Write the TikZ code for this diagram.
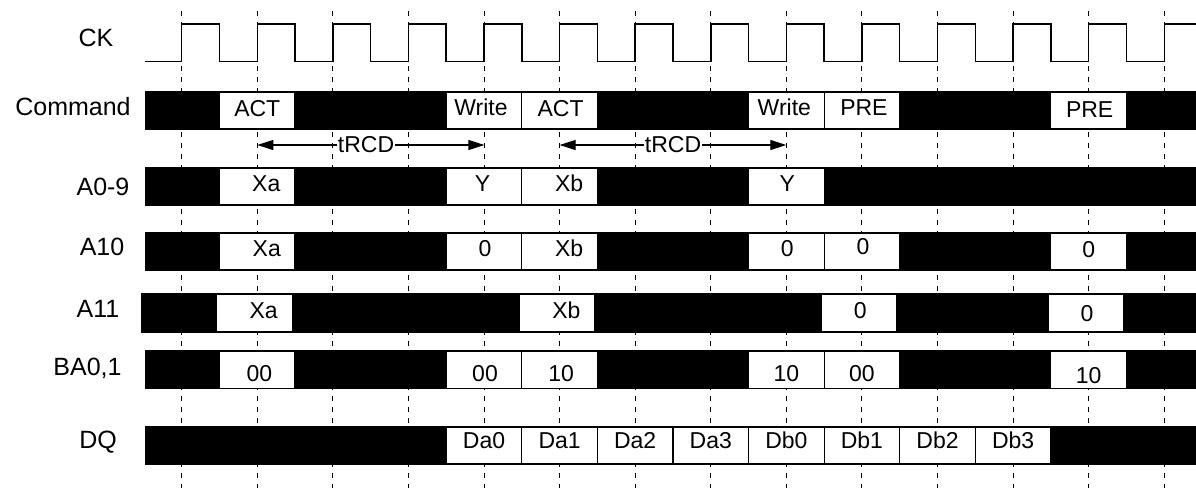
\documentclass[tikz,border=0pt]{standalone}
\usepackage{fontspec}
\setmainfont{Liberation Sans}
\usetikzlibrary{arrows.meta}
\newcommand\sigcell[7][]{%
  \node[sigbox,#1] (#2) at ({257.29+75.58*#3},#4) {};
  \node[boxtext] (#2t) at ([shift={(#6,#7)}]#2.center) {#5};
}
\begin{document}
\begin{tikzpicture}[x=1pt,y=-1pt,
  sigbox/.style={draw=black, fill=white, line width=1.2pt, minimum width=75.58pt, minimum height=37pt, inner sep=0pt, outer sep=0pt},
  boxtext/.style={font=\fontsize{23}{23}\selectfont, inner sep=0pt, text height=16.5pt, text depth=0pt},
  rowlabel/.style={font=\fontsize{25}{25}\selectfont, inner sep=0pt, text height=18pt, text depth=0pt},
  bus/.style={fill=black},
  gridline/.style={dash pattern=on 5pt off 6pt, line width=1pt, black},
  clk/.style={line width=1.5pt, line join=miter},
  timing/.style={{Triangle[length=16pt,width=10pt]}-{Triangle[length=16pt,width=10pt]}, line width=1.2pt},
  tlabel/.style={boxtext, fill=white, inner xsep=1pt}
]
\useasboundingbox (0,0) rectangle (1196,488);
% grid
\foreach \k in {0,...,13}
  \draw[gridline] ({181.7+75.58*\k},11) -- ({181.7+75.58*\k},488);
% clock
\draw[clk] (145,61.7) foreach \k in {0,...,12}{
  -- ({181.7+75.58*\k},61.7) -- ({181.7+75.58*\k},24) -- ({219.5+75.58*\k},24) -- ({219.5+75.58*\k},61.7)}
  -- (1164.24,61.7) -- (1164.24,24) -- (1196,24);
% labels
\node[rowlabel] (lck) at (96,37) {CK};
\node[rowlabel] (lcmd) at (73,106) {Command};
\node[rowlabel] (la09) at (103,186) {A0-9};
\node[rowlabel] (la10) at (102,246.5) {A10};
\node[rowlabel] (la11) at (98,308) {A11};
\node[rowlabel] (lba) at (87.5,366.5) {BA0,1};
\node[rowlabel] (ldq) at (98,439) {DQ};
% buses
\fill[bus] (145,91) rectangle (1196,130);
\fill[bus] (145,167) rectangle (1196,206);
\fill[bus] (145,232) rectangle (1196,271);
\fill[bus] (141,293) rectangle (1196,333);
\fill[bus] (145,350) rectangle (1196,389.3);
\fill[bus] (145,426) rectangle (1196,465);
% Command
\sigcell{c0}{0}{110.5}{ACT}{0}{-2}
\sigcell{c3}{3}{110.5}{Write}{-3}{-3}
\sigcell{c4}{4}{110.5}{ACT}{1}{-2}
\sigcell{c7}{7}{110.5}{Write}{-2}{-3}
\sigcell{c8}{8}{110.5}{PRE}{2}{-3}
\sigcell{c11}{11}{110.5}{PRE}{1}{-1.5}
% A0-9
\sigcell{a0}{0}{186.5}{Xa}{9}{-3}
\sigcell{a3}{3}{186.5}{Y}{-1.5}{-3}
\sigcell{a4}{4}{186.5}{Xb}{9.5}{-3}
\sigcell{a7}{7}{186.5}{Y}{1}{-3}
% A10
\sigcell{b0}{0}{251.5}{Xa}{9.5}{-3}
\sigcell{b3}{3}{251.5}{0}{1}{-3}
\sigcell{b4}{4}{251.5}{Xb}{9.5}{-3}
\sigcell{b7}{7}{251.5}{0}{1}{-3}
\sigcell{b8}{8}{251.5}{0}{1}{-5}
\sigcell{b11}{11}{251.5}{0}{0}{-2.5}
% A11
\sigcell[xshift=-2.7pt]{d0}{0}{313}{Xa}{9}{-3}
\sigcell[xshift=-2.7pt]{d4}{4}{313}{Xb}{9.5}{-3}
\sigcell[xshift=-2.7pt]{d8}{8}{313}{0}{1}{-3}
\sigcell[xshift=-2.7pt]{d11}{11}{313}{0}{1}{0}
% BA0,1
\sigcell{e0}{0}{369.7}{00}{2}{4}
\sigcell{e3}{3}{369.7}{00}{1}{4}
\sigcell{e4}{4}{369.7}{10}{1.5}{4}
\sigcell{e7}{7}{369.7}{10}{0}{4}
\sigcell{e8}{8}{369.7}{00}{0}{3.5}
\sigcell{e11}{11}{369.7}{10}{0}{6}
% DQ
\sigcell{q3}{3}{445.5}{Da0}{0}{-5}
\sigcell{q4}{4}{445.5}{Da1}{0}{-5}
\sigcell{q5}{5}{445.5}{Da2}{0}{-5}
\sigcell{q6}{6}{445.5}{Da3}{0}{-5}
\sigcell{q7}{7}{445.5}{Db0}{0}{-5}
\sigcell{q8}{8}{445.5}{Db1}{0}{-5}
\sigcell{q9}{9}{445.5}{Db2}{0}{-5}
\sigcell{q10}{10}{445.5}{Db3}{0}{-5}
% tRCD
\coordinate (r1a) at (257.3,145);
\coordinate (r1b) at (484.4,145);
\coordinate (r2a) at (559.6,145);
\coordinate (r2b) at (786.3,145);
\draw[timing] (r1a) -- (r1b);
\draw[timing] (r2a) -- (r2b);
\node[tlabel] (t1) at (366,144.5) {tRCD};
\node[tlabel] (t2) at (673,144.5) {tRCD};
\end{tikzpicture}
\end{document}
